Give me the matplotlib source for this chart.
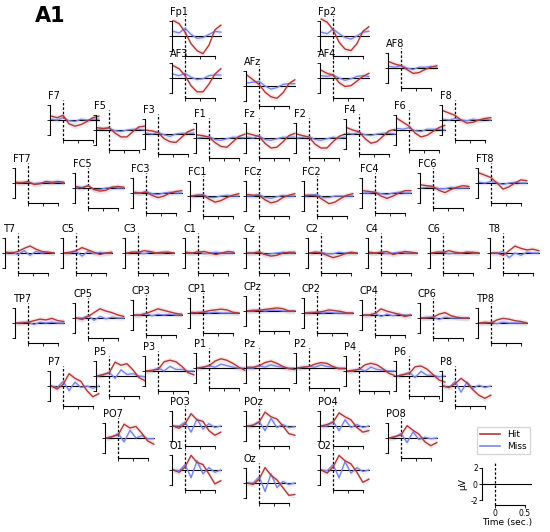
import matplotlib
matplotlib.use("Agg")
import matplotlib.pyplot as plt
import numpy as np

channels = ["Fp1","Fp2","AF3","AFz","AF4","AF8",
 "F7","F5","F3","F1","Fz","F2","F4","F6","F8",
 "FT7","FC5","FC3","FC1","FCz","FC2","FC4","FC6","FT8",
 "T7","C5","C3","C1","Cz","C2","C4","C6","T8",
 "TP7","CP5","CP3","CP1","CPz","CP2","CP4","CP6","TP8",
 "P7","P5","P3","P1","Pz","P2","P4","P6","P8",
 "PO7","PO3","POz","PO4","PO8","O1","Oz","O2"]
label_x = [172,320,172,246,320,388,
 50,96,145,196,246,296,346,396,442,
 15,75,133,190,246,304,362,420,478,
 5,63,125,185,246,308,368,430,490,
 15,75,133,190,246,304,362,420,478,
 50,96,145,196,246,296,346,396,442,
 105,172,246,320,388,172,246,320]
label_y = [8,8,50,58,50,40,
 92,102,106,110,110,110,106,102,92,
 155,160,165,168,168,168,165,160,155,
 225,225,225,225,225,225,225,225,225,
 295,290,287,285,283,285,287,290,295,
 358,348,343,340,340,340,343,348,358,
 410,398,398,398,410,442,455,442]

times = [-0.2,-0.1,0.0,0.1,0.2,0.3,0.4,0.5,0.6]
hit = [
 [2.0,1.6,0.5,-1.0,-1.9,-2.3,-1.2,0.8,1.4],
 [2.2,1.8,0.8,-0.8,-1.7,-1.9,-1.0,0.6,1.2],
 [1.6,1.2,0.3,-1.0,-1.8,-1.8,-0.8,0.5,1.2],
 [1.4,0.8,0.2,-0.8,-1.4,-1.6,-0.9,0.3,0.8],
 [1.0,0.6,0.4,-0.6,-1.1,-1.0,-0.4,0.2,0.6],
 [0.8,0.5,0.3,-0.2,-0.7,-0.6,-0.2,0.1,0.3],
 [0.5,0.3,0.6,-0.5,-0.8,-0.6,-0.2,0.3,0.5],
 [0.3,0.2,0.3,-0.4,-0.9,-0.9,-0.2,0.4,0.5],
 [0.5,0.4,0.2,-0.6,-1.0,-1.1,-0.4,0.3,0.6],
 [0.4,0.3,0.1,-0.6,-1.1,-1.2,-0.5,0.2,0.5],
 [0.6,0.4,0.2,-0.7,-1.3,-1.2,-0.5,0.3,0.6],
 [0.5,0.3,0.1,-0.8,-1.3,-1.3,-0.5,0.2,0.5],
 [0.8,0.5,0.3,-0.6,-1.2,-1.0,-0.3,0.4,0.6],
 [1.5,1.0,0.5,-0.4,-0.9,-0.7,-0.2,0.3,0.6],
 [1.2,0.9,0.6,0.0,-0.4,-0.3,0.0,0.2,0.3],
 [0.1,0.0,0.2,-0.2,-0.1,0.2,0.1,0.2,0.1],
 [0.2,0.0,0.3,-0.2,-0.4,-0.3,0.1,0.2,0.1],
 [0.1,0.0,0.1,-0.3,-0.6,-0.4,0.0,0.2,0.3],
 [0.0,0.1,0.1,-0.4,-0.8,-0.6,-0.2,0.1,0.3],
 [0.2,0.1,0.1,-0.5,-0.9,-0.7,-0.2,0.1,0.3],
 [0.1,0.1,0.0,-0.5,-1.0,-0.8,-0.3,0.1,0.3],
 [0.3,0.2,0.1,-0.4,-0.7,-0.4,0.0,0.3,0.3],
 [0.4,0.3,0.2,-0.3,-0.6,-0.2,0.1,0.3,0.2],
 [1.3,1.0,0.7,0.0,-0.8,-0.5,0.0,0.4,0.3],
 [0.1,0.0,0.2,0.6,0.9,0.5,0.2,0.1,0.0],
 [0.0,0.1,0.3,0.7,0.4,0.1,-0.2,0.0,0.1],
 [0.0,0.1,0.1,0.3,0.2,0.0,0.1,0.1,0.0],
 [0.1,0.0,0.1,0.2,0.0,-0.2,0.0,0.2,0.1],
 [0.0,0.0,0.1,-0.2,-0.4,-0.3,0.0,0.1,0.1],
 [0.0,0.1,0.0,-0.3,-0.6,-0.4,-0.1,0.1,0.0],
 [0.1,0.0,0.1,0.2,-0.2,0.0,0.2,0.1,0.0],
 [0.0,0.1,0.1,0.3,0.1,0.0,0.1,0.1,0.0],
 [0.0,0.0,-0.3,0.3,0.9,0.6,0.4,0.5,0.3],
 [0.0,0.0,0.1,0.3,0.5,0.4,0.6,0.3,0.2],
 [0.0,-0.2,0.2,0.7,1.2,0.9,0.7,0.4,0.2],
 [0.0,0.0,0.2,0.5,0.8,0.6,0.4,0.2,0.1],
 [0.1,0.0,0.1,0.3,0.4,0.5,0.4,0.1,0.0],
 [0.0,0.1,0.1,0.2,0.3,0.4,0.3,0.0,0.0],
 [0.0,0.0,0.1,0.2,0.4,0.3,0.2,0.0,0.0],
 [0.0,0.0,0.2,0.8,0.5,0.3,0.1,-0.2,0.0],
 [0.0,0.0,0.1,0.5,0.7,0.3,0.1,0.0,0.0],
 [0.0,0.1,0.0,0.4,0.6,0.5,0.3,0.2,0.0],
 [0.0,-0.4,0.2,1.6,1.0,0.6,-0.6,-1.4,-1.0],
 [0.0,0.2,0.4,1.8,1.4,1.6,0.8,-0.2,-0.6],
 [0.0,0.1,0.2,1.2,1.4,1.2,0.6,-0.2,-0.5],
 [0.0,0.1,0.3,0.9,1.2,1.0,0.6,0.1,-0.3],
 [0.1,0.1,0.3,0.7,0.9,0.6,0.2,-0.1,-0.2],
 [0.0,0.1,0.2,0.5,0.7,0.6,0.2,-0.1,-0.1],
 [0.0,0.1,0.2,0.8,1.0,0.8,0.3,-0.3,-0.6],
 [0.0,0.2,0.3,1.2,1.3,0.9,0.2,-0.5,-0.8],
 [0.0,-0.2,0.3,1.0,0.4,-0.5,-1.2,-1.6,-1.2],
 [0.0,0.2,0.4,1.8,1.3,1.5,0.6,-0.4,-0.8],
 [0.0,-0.3,0.3,1.6,0.8,0.6,-0.6,-1.2,-0.8],
 [0.0,0.1,0.5,1.8,1.2,0.9,0.0,-1.0,-1.2],
 [0.0,0.2,0.5,1.7,1.2,0.8,-0.2,-0.8,-0.6],
 [0.0,0.2,0.4,1.6,1.0,0.5,-0.5,-1.0,-0.6],
 [0.0,-0.3,0.4,1.9,1.0,0.7,-0.5,-1.8,-1.4],
 [0.0,-0.2,0.5,2.0,1.0,0.4,-0.6,-1.6,-1.5],
 [0.0,-0.4,0.4,1.9,1.2,0.8,-0.3,-1.6,-1.2],
]
miss = [
 [0.6,0.4,1.0,0.2,-0.3,-0.2,0.2,0.6,0.5],
 [0.5,0.3,0.9,0.3,-0.2,-0.4,0.0,0.5,0.6],
 [0.5,0.3,0.6,0.1,-0.2,-0.1,0.3,0.4,0.4],
 [0.4,0.5,0.6,0.0,-0.4,-0.2,0.2,0.3,0.3],
 [0.3,0.2,0.4,0.0,-0.3,-0.1,0.2,0.3,0.2],
 [0.2,0.1,0.3,0.0,-0.2,0.1,0.1,0.2,0.1],
 [0.1,0.0,0.3,-0.1,-0.2,0.1,0.0,0.1,0.1],
 [0.1,0.1,0.2,-0.1,-0.2,0.0,0.1,0.1,0.0],
 [0.1,0.0,0.2,-0.1,-0.3,0.0,0.1,0.1,0.1],
 [0.0,0.1,0.2,-0.2,-0.3,-0.1,0.1,0.1,0.0],
 [0.1,0.0,0.3,-0.2,-0.3,-0.1,0.1,0.1,0.1],
 [0.0,0.1,0.2,-0.2,-0.3,-0.1,0.1,0.0,0.1],
 [0.1,0.0,0.2,-0.1,-0.2,0.0,0.1,0.1,0.0],
 [0.2,0.1,0.3,-0.1,-0.2,0.1,0.1,0.1,0.0],
 [0.1,0.0,0.2,0.0,-0.1,0.1,0.0,0.1,0.0],
 [0.0,0.1,0.1,-0.1,0.0,0.1,0.0,0.1,0.0],
 [0.0,0.1,0.3,-0.2,-0.2,0.0,0.1,0.0,0.0],
 [0.0,0.0,0.2,-0.1,-0.2,0.0,0.1,0.0,0.0],
 [0.0,0.1,0.2,-0.2,-0.2,0.0,0.1,0.0,0.0],
 [0.0,0.0,0.2,-0.2,-0.3,-0.1,0.1,0.0,0.0],
 [0.0,0.1,0.2,-0.2,-0.2,0.0,0.0,0.0,0.0],
 [0.0,0.0,0.1,-0.1,-0.2,0.0,0.1,0.0,0.0],
 [0.0,0.1,0.1,-0.1,-0.1,0.1,0.0,0.0,0.0],
 [0.1,0.0,0.2,0.0,-0.2,0.0,0.1,0.0,0.0],
 [0.0,0.1,-0.2,0.3,-0.3,0.2,0.0,0.1,0.0],
 [0.0,0.0,0.2,-0.4,0.2,-0.1,0.1,0.0,0.0],
 [0.0,0.1,0.1,-0.1,0.1,0.0,0.0,0.1,0.0],
 [0.0,0.0,0.2,-0.1,0.0,0.1,0.0,0.0,0.0],
 [0.0,0.0,0.2,-0.2,-0.1,0.0,0.1,0.0,0.0],
 [0.0,0.1,0.1,-0.1,-0.1,0.1,0.0,0.0,0.0],
 [0.0,0.0,0.1,-0.1,0.0,0.1,0.0,0.0,0.0],
 [0.0,0.1,0.1,-0.1,0.0,0.0,0.1,0.0,0.0],
 [0.0,0.0,0.2,-0.6,0.0,-0.3,0.1,0.0,0.0],
 [0.0,0.1,0.1,-0.2,0.1,0.0,0.1,0.0,0.0],
 [0.0,0.0,0.3,-0.3,0.2,-0.1,0.1,0.0,0.0],
 [0.0,0.0,0.2,-0.1,0.1,0.0,0.1,0.0,0.0],
 [0.0,0.1,0.1,0.0,0.1,0.0,0.0,0.0,0.0],
 [0.0,0.0,0.1,0.0,0.1,0.1,0.0,0.0,0.0],
 [0.0,0.1,0.1,0.0,0.1,0.0,0.0,0.0,0.0],
 [0.0,0.0,0.2,-0.2,0.1,-0.1,0.1,0.0,0.0],
 [0.0,0.1,0.1,-0.2,0.1,0.0,0.0,0.0,0.0],
 [0.0,0.0,0.1,-0.1,0.1,0.0,0.0,0.0,0.0],
 [0.0,-0.2,0.6,-0.6,0.5,-0.2,0.0,-0.3,0.0],
 [0.0,0.1,0.5,-0.3,0.8,0.2,0.3,0.0,-0.1],
 [0.0,0.0,0.4,0.0,0.6,0.2,0.2,0.0,0.0],
 [0.0,0.1,0.3,0.1,0.5,0.3,0.1,0.0,0.0],
 [0.0,0.0,0.3,0.1,0.4,0.2,0.1,0.0,0.0],
 [0.0,0.1,0.2,0.1,0.4,0.2,0.1,0.0,0.0],
 [0.0,0.0,0.3,0.0,0.5,0.2,0.1,0.0,0.0],
 [0.0,0.1,0.5,-0.2,0.6,0.1,0.1,-0.1,0.0],
 [0.0,-0.2,0.6,-0.8,0.5,-0.3,0.1,-0.2,0.0],
 [0.0,0.1,0.6,-0.5,1.0,0.0,0.3,-0.1,-0.1],
 [0.0,0.0,0.5,-0.8,0.9,-0.4,0.3,-0.2,0.0],
 [0.0,0.1,0.6,-0.6,1.0,-0.2,0.2,-0.2,-0.1],
 [0.0,0.0,0.6,-0.6,0.8,-0.2,0.2,-0.2,0.0],
 [0.0,0.1,0.6,-0.6,0.8,-0.2,0.1,-0.1,0.0],
 [0.0,-0.1,0.7,-1.0,1.2,-0.5,0.3,-0.3,0.0],
 [0.0,0.0,0.8,-1.1,1.2,-0.6,0.2,-0.2,0.0],
 [0.0,-0.1,0.7,-1.0,1.1,-0.4,0.3,-0.2,0.0],
]

HIT_C = "#b03a3a"
MISS_C = "#7a85e8"
W, H = 550, 532
AW, AH = 50, 40

fig = plt.figure(figsize=(5.5, 5.32), dpi=100)

def style(ax, small_labels=False):
    ax.set_xlim(-0.22, 0.62)
    ax.set_ylim(-2.6, 2.6)
    for s in ["top", "right"]:
        ax.spines[s].set_visible(False)
    ax.spines["left"].set_bounds(-2, 2)
    ax.spines["bottom"].set_bounds(0, 0.5)
    ax.spines["left"].set_linewidth(0.8)
    ax.spines["bottom"].set_linewidth(0.8)
    ax.set_yticks([-2, 0, 2])
    ax.set_xticks([0, 0.25, 0.5])
    ax.tick_params(length=2, width=0.6, pad=1, labelsize=6)
    if not small_labels:
        ax.set_xticklabels([])
        ax.set_yticklabels([])
    ax.patch.set_alpha(0)
    ax.axhline(0, color="black", lw=0.8)
    ax.axvline(0, color="black", lw=0.9, ls=(0, (2, 1.5)))

t = np.array(times)
for name, lx, ly, h, m in zip(channels, label_x, label_y, hit, miss):
    ax = fig.add_axes([lx / W, 1 - (ly + 8 + AH) / H, AW / W, AH / H])
    style(ax)
    h = np.array(h); m = np.array(m)
    ax.fill_between(t, h - 0.35, h + 0.35, color=HIT_C, alpha=0.12, lw=0)
    ax.fill_between(t, m - 0.35, m + 0.35, color=MISS_C, alpha=0.12, lw=0)
    ax.plot(t, m, color=MISS_C, lw=1.0)
    ax.plot(t, h, color=HIT_C, lw=1.0)
    fig.text((lx - 2) / W, 1 - (ly + 4) / H, name, fontsize=7, va="center", ha="left")

# scale axes
ax = fig.add_axes([482 / W, 1 - 505 / H, 50 / W, 42 / H])
style(ax, small_labels=True)
ax.set_xticks([0, 0.5])
ax.set_xticklabels(["0", "0.5"])
ax.set_yticklabels(["-2", "0", "2"])
ax.tick_params(labelsize=5.5)
ax.set_xlabel("Time (sec.)", fontsize=6.5, labelpad=0)
ax.set_ylabel("µV", fontsize=6.5, labelpad=2)

from matplotlib.lines import Line2D
handles = [Line2D([], [], color=HIT_C, lw=1.2), Line2D([], [], color=MISS_C, lw=1.2)]
fig.legend(handles, ["Hit", "Miss"], loc="upper left",
           bbox_to_anchor=(472 / W, 1 - 422 / H), fontsize=6.5,
           handlelength=2.2, frameon=True, borderpad=0.4, labelspacing=0.3)

fig.text(35 / W, 1 - 16 / H, "A1", fontsize=15, fontweight="bold", va="center")
fig.savefig("out.png", dpi=100)
